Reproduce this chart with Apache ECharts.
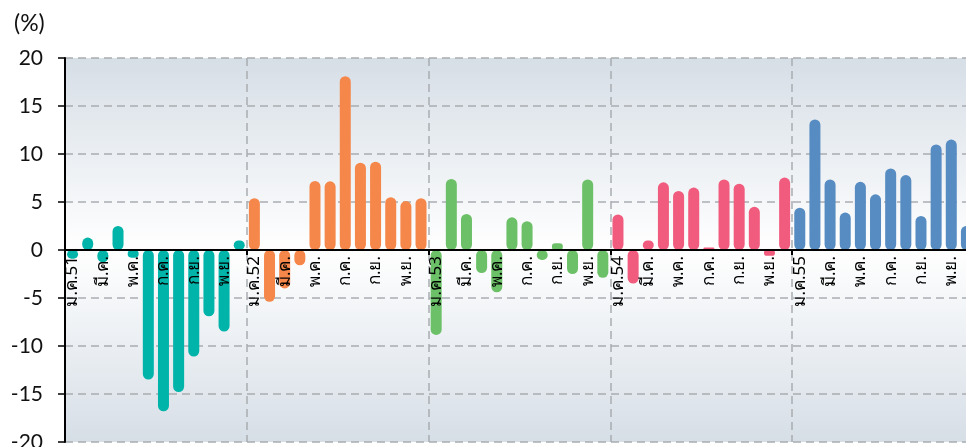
<!DOCTYPE html>
<html>
<head>
<meta charset="utf-8">
<script src="https://cdn.jsdelivr.net/npm/echarts@6/dist/echarts.min.js"></script>
<style>
  html, body { margin: 0; padding: 0; background: #fff; }
  #chart { width: 966px; height: 447px; }
</style>
</head>
<body>
<div id="chart"></div>
<script>
// ชื่อเดือน (ย่อ)
var months = ['ม.ค.', 'ก.พ.', 'มี.ค.', 'เม.ย.', 'พ.ค.', 'มิ.ย.', 'ก.ค.', 'ส.ค.', 'ก.ย.', 'ต.ค.', 'พ.ย.', 'ธ.ค.'];
var years = ['51', '52', '53', '54', '55'];

// อัตราการเปลี่ยนแปลงรายเดือน (%)
var y51 = [-0.9, 1.3, -1.3, 2.5, -0.8, -13.5, -16.8, -14.8, -11.1, -6.9, -8.5, 1.0];
var y52 = [5.4, -5.4, -4.0, -1.6, 7.2, 7.15, 18.1, 9.1, 9.2, 5.5, 5.1, 5.4];
var y53 = [-8.85, 7.4, 3.75, -2.4, -4.4, 3.4, 3.0, -1.05, 0.7, -2.5, 7.35, -2.9];
var y54 = [3.7, -3.5, 1.0, 7.05, 6.15, 6.5, 0.25, 7.35, 6.9, 4.5, -0.6, 7.55];
var y55 = [4.4, 13.6, 7.35, 3.9, 7.1, 5.8, 8.5, 7.8, 3.55, 11.0, 11.5, 2.5];

var colors = ['#00b4aa', '#f5874b', '#6cc067', '#f05b7e', '#568cc2'];
var yTicks = [-20, -15, -10, -5, 0, 5, 10, 15, 20];

var yearData = [y51, y52, y53, y54, y55];

// หมวดหมู่แกน x
var categories = [];
years.forEach(function (yr) {
    months.forEach(function (m, i) {
        categories.push(i === 0 ? m + yr : m);
    });
});

var series = yearData.map(function (arr, k) {
    var data = [];
    for (var i = 0; i < categories.length; i++) {
        var j = i - k * 12;
        data.push(j >= 0 && j < 12 ? arr[j] : '-');
    }
    return {
        type: 'bar',
        name: '25' + years[k],
        data: data,
        barWidth: 11,
        barGap: '-100%',
        itemStyle: { color: colors[k], borderRadius: 5.5 }
    };
});

var gridTop = 58, gridBottom = 5, H = 447;
// แกน x วางที่ระดับ 0 (กึ่งกลางช่วง -20..20)
var zeroOffset = -(H - gridTop - gridBottom) / 2;

var chart = echarts.init(document.getElementById('chart'));
chart.setOption({
    animation: false,
    graphic: [{
        type: 'text',
        left: 14,
        top: 12,
        style: { text: '(%)', font: '23px Lato', fill: '#111' }
    }],
    grid: {
        left: 65,
        right: -8,
        top: gridTop,
        bottom: gridBottom,
        outerBoundsMode: 'none',
        containLabel: false,
        show: true,
        borderWidth: 0,
        backgroundColor: {
            type: 'linear', x: 0, y: 0, x2: 0, y2: 1,
            colorStops: [
                { offset: 0, color: '#d6dee6' },
                { offset: 0.5, color: '#ffffff' },
                { offset: 1, color: '#d6dee6' }
            ]
        }
    },
    xAxis: {
        type: 'category',
        data: categories,
        position: 'bottom',
        offset: zeroOffset,
        z: 5,
        boundaryGap: true,
        axisLine: { onZero: false, lineStyle: { color: '#000', width: 2 } },
        axisTick: {
            show: true,
            length: 5,
            interval: function (i) { return i % 12 === 0; },
            lineStyle: { color: '#000', width: 2 }
        },
        axisLabel: {
            interval: 1,
            rotate: 90,
            margin: 6,
            fontSize: 17,
            color: '#000',
            fontFamily: 'Noto Sans, DejaVu Sans, sans-serif'
        },
        splitLine: {
            show: true,
            interval: function (i) { return i % 12 === 0 && i > 0; },
            lineStyle: { color: '#a9adb1', width: 1.5, type: [8, 5] }
        }
    },
    yAxis: {
        type: 'value',
        min: yTicks[0],
        max: yTicks[yTicks.length - 1],
        interval: 5,
        axisLine: { show: true, lineStyle: { color: '#000', width: 2 } },
        axisTick: { show: true, length: 7, lineStyle: { color: '#000', width: 1.5 } },
        axisLabel: {
            margin: 22,
            fontSize: 21,
            color: '#111',
            fontFamily: 'Lato'
        },
        splitLine: {
            show: true,
            lineStyle: { color: '#a9adb1', width: 1.5, type: [8, 5] }
        }
    },
    series: series
});
</script>
</body>
</html>
